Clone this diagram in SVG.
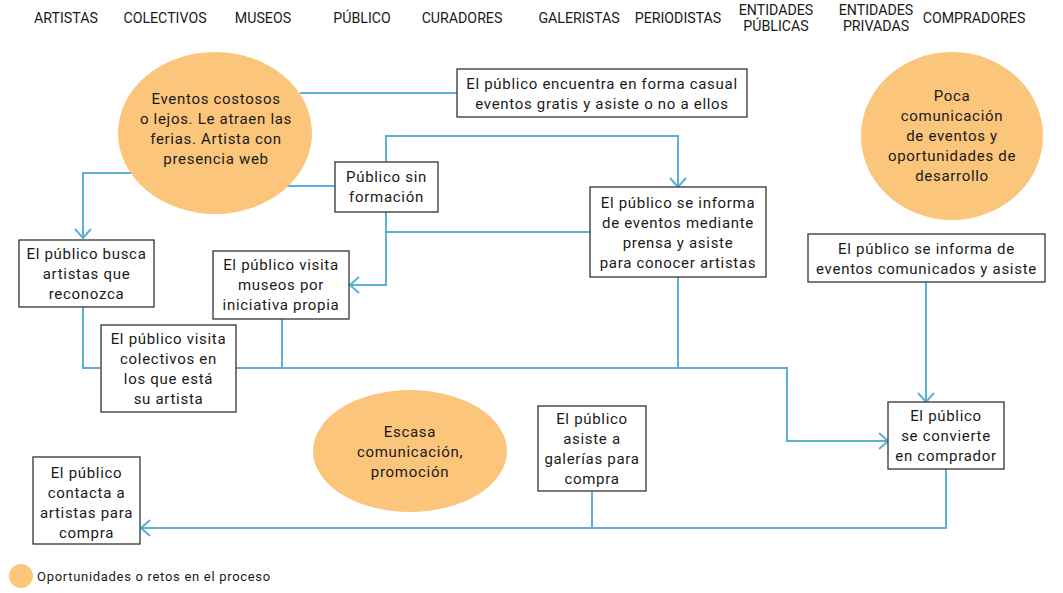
<svg xmlns="http://www.w3.org/2000/svg" width="1063" height="593" viewBox="0 0 1063 593">
<defs>
<style>
text{font-family:Roboto,"Liberation Sans",sans-serif;fill:#1a1a1a;}
.h{font-size:14.2px;text-anchor:middle;}
.t{font-size:15px;text-anchor:middle;letter-spacing:0.7px;}
.l{font-size:13px;letter-spacing:0.7px;}
.box{fill:#fff;stroke:#333;stroke-width:1.3;}
.ell{fill:#FBC57B;}
.c{fill:none;stroke:#5BB0D6;stroke-width:2;}
</style>
<marker id="ar" viewBox="0 0 11 18" refX="10" refY="9" markerWidth="11" markerHeight="18" markerUnits="userSpaceOnUse" orient="auto">
<path d="M1,1 L10,9 L1,17" fill="none" stroke="#5BB0D6" stroke-width="2"/>
</marker>
</defs>
<rect width="1063" height="593" fill="#fff"/>
<g id="header">
<text class="h" x="66" y="23">ARTISTAS</text>
<text class="h" x="165" y="23">COLECTIVOS</text>
<text class="h" x="263" y="23">MUSEOS</text>
<text class="h" x="362" y="23">PÚBLICO</text>
<text class="h" x="462" y="23">CURADORES</text>
<text class="h" x="579" y="23">GALERISTAS</text>
<text class="h" x="678" y="23">PERIODISTAS</text>
<text class="h" x="776" y="15">ENTIDADES</text>
<text class="h" x="776" y="31">PÚBLICAS</text>
<text class="h" x="876" y="15">ENTIDADES</text>
<text class="h" x="876" y="31">PRIVADAS</text>
<text class="h" x="974" y="23">COMPRADORES</text>
</g>
<g id="connectors">
<path class="c" d="M300,93 H457"/>
<path class="c" d="M285,186 H335"/>
<path class="c" d="M135,173 H83 V238" marker-end="url(#ar)"/>
<path class="c" d="M386,162 V136 H678 V187" marker-end="url(#ar)"/>
<path class="c" d="M386,212 V285 H350" marker-end="url(#ar)"/>
<path class="c" d="M386,232 H590"/>
<path class="c" d="M83,307 V368 H787 V441 H888" marker-end="url(#ar)"/>
<path class="c" d="M282,319 V368"/>
<path class="c" d="M678,277 V368"/>
<path class="c" d="M926,282 V402" marker-end="url(#ar)"/>
<path class="c" d="M946,469 V528 H141" marker-end="url(#ar)"/>
<path class="c" d="M592,491 V528"/>
</g>
<g id="reto-eventos">
<ellipse class="ell" cx="215" cy="133" rx="97" ry="81"/>
<text class="t" x="216" y="104">Eventos costosos</text>
<text class="t" x="216" y="124">o lejos. Le atraen las</text>
<text class="t" x="216" y="144">ferias. Artista con</text>
<text class="t" x="216" y="164">presencia web</text>
</g>
<g id="reto-poca">
<ellipse class="ell" cx="952" cy="136" rx="91" ry="84"/>
<text class="t" x="952" y="101">Poca</text>
<text class="t" x="952" y="121">comunicación</text>
<text class="t" x="952" y="141">de eventos y</text>
<text class="t" x="952" y="161">oportunidades de</text>
<text class="t" x="952" y="181">desarrollo</text>
</g>
<g id="reto-escasa">
<ellipse class="ell" cx="410" cy="451" rx="97" ry="61"/>
<text class="t" x="410" y="437">Escasa</text>
<text class="t" x="410" y="457">comunicación,</text>
<text class="t" x="410" y="477">promoción</text>
</g>
<g id="encuentra">
<rect class="box" x="457" y="69" width="290" height="48"/>
<text class="t" x="602" y="89">El público encuentra en forma casual</text>
<text class="t" x="602" y="109">eventos gratis y asiste o no a ellos</text>
</g>
<g id="sin-formacion">
<rect class="box" x="335" y="162" width="103" height="50"/>
<text class="t" x="386.5" y="182">Público sin</text>
<text class="t" x="386.5" y="202">formación</text>
</g>
<g id="prensa">
<rect class="box" x="590" y="187" width="176" height="90"/>
<text class="t" x="678" y="208">El público se informa</text>
<text class="t" x="678" y="228">de eventos mediante</text>
<text class="t" x="678" y="248">prensa y asiste</text>
<text class="t" x="678" y="268">para conocer artistas</text>
</g>
<g id="busca">
<rect class="box" x="19" y="240" width="135" height="67"/>
<text class="t" x="86.5" y="259">El público busca</text>
<text class="t" x="86.5" y="279">artistas que</text>
<text class="t" x="86.5" y="299">reconozca</text>
</g>
<g id="museos">
<rect class="box" x="213" y="251" width="136" height="68"/>
<text class="t" x="281" y="270">El público visita</text>
<text class="t" x="281" y="290">museos por</text>
<text class="t" x="281" y="310">iniciativa propia</text>
</g>
<g id="colectivos">
<rect class="box" x="101" y="325" width="135" height="87"/>
<text class="t" x="168.5" y="344">El público visita</text>
<text class="t" x="168.5" y="364">colectivos en</text>
<text class="t" x="168.5" y="384">los que está</text>
<text class="t" x="168.5" y="404">su artista</text>
</g>
<g id="comunicados">
<rect class="box" x="808" y="234" width="237" height="48"/>
<text class="t" x="926.5" y="254">El público se informa de</text>
<text class="t" x="926.5" y="274">eventos comunicados y asiste</text>
</g>
<g id="galerias">
<rect class="box" x="538" y="406" width="108" height="85"/>
<text class="t" x="592" y="424">El público</text>
<text class="t" x="592" y="444">asiste a</text>
<text class="t" x="592" y="464">galerías para</text>
<text class="t" x="592" y="484">compra</text>
</g>
<g id="comprador">
<rect class="box" x="888" y="402" width="116" height="67"/>
<text class="t" x="946" y="421">El público</text>
<text class="t" x="946" y="441">se convierte</text>
<text class="t" x="946" y="461">en comprador</text>
</g>
<g id="contacta">
<rect class="box" x="33" y="457" width="107" height="87"/>
<text class="t" x="86.5" y="478">El público</text>
<text class="t" x="86.5" y="498">contacta a</text>
<text class="t" x="86.5" y="518">artistas para</text>
<text class="t" x="86.5" y="538">compra</text>
</g>
<g id="legend">
<circle class="ell" cx="21" cy="576" r="12"/>
<text class="l" x="37" y="581">Oportunidades o retos en el proceso</text>
</g>
</svg>
